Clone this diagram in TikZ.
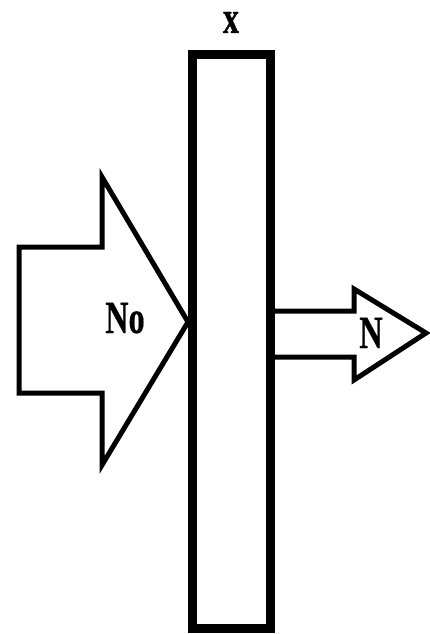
\documentclass[tikz,border=0pt]{standalone}
\usepackage{fontspec}
\setmainfont{Liberation Serif}
\newfontfamily\lblfont[FakeBold=0.6]{Liberation Serif Bold}
\begin{document}
\begin{tikzpicture}[x=1pt,y=-1pt,
  outline/.style={draw=black,line width=5pt,line join=miter},
  lbl/.style={font=\fontsize{46}{50}\selectfont\lblfont,inner sep=0pt,xscale=0.7,anchor=base}]
\useasboundingbox (0,0) rectangle (430,634);
% absorbing slab
\node[draw=black,line width=9pt,minimum width=78pt,minimum height=573pt,inner sep=0pt] (slab) at (231,341.5) {};
% incident beam
\draw[outline] (19,247) -- (102,247) -- (102,177) -- (188,322) -- (102,465) -- (102,393) -- (19,393) -- cycle;
% transmitted beam
\coordinate (st) at (slab.east |- 0,311);
\coordinate (sb) at (slab.east |- 0,357);
\draw[outline] (st) -- (354,311) -- (354,289) -- (426,333) -- (354,380) -- (354,357) -- (sb);
% labels
\node[lbl] (thick) at (231,33) {x};
\node[lbl] (nin) at (125,333) {No};
\node[lbl] (nout) at (371,348) {N};
\end{tikzpicture}
\end{document}
